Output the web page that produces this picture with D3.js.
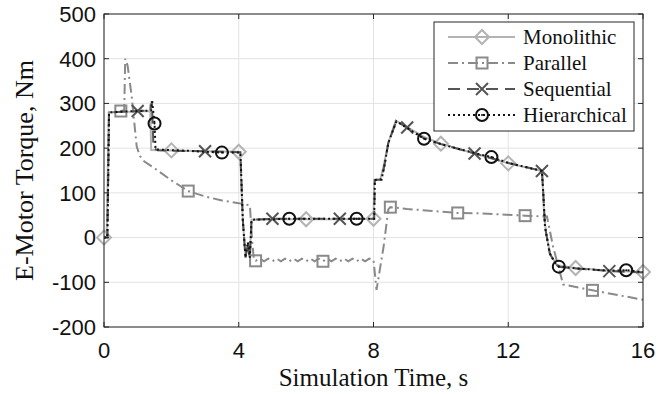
<!DOCTYPE html>
<html>
<head>
<meta charset="utf-8">
<script src="https://cdn.jsdelivr.net/npm/d3@7"></script>
<style>
  body { margin: 0; background: #fff; }
  svg { display: block; }
</style>
</head>
<body>
<div id="chart"></div>
<script>
// data, [time s, torque Nm]
const monolithic = [
  [0, 0], [0.08, 0], [0.14, 280], [1.0, 282], [1.36, 283], [1.37, 298], [1.40, 196],
  [2, 195], [3, 193], [4, 192], [4.04, 190], [4.12, 40], [4.2, -42], [4.27, -20], [4.32, -44],
  [4.38, 40], [5, 41], [6, 41], [7, 41], [8, 42], [8.02, 129], [8.2, 130], [8.3, 160],
  [8.44, 212], [8.66, 262], [9, 247], [9.5, 225], [10, 210], [11, 188], [12, 166], [13, 149],
  [13.06, 60], [13.12, 10], [13.25, -38], [13.45, -62], [14, -68], [15, -74], [16, -77]
];
const parallel = [
  [0, 0], [0.1, 0], [0.15, 280], [0.5, 283], [0.6, 285], [0.63, 400], [0.7, 385],
  [0.82, 317], [0.97, 204], [1.07, 182], [1.2, 170], [1.5, 155], [2.0, 128], [2.5, 104],
  [3.0, 92], [3.5, 83], [4.0, 77], [4.33, 72], [4.4, -10], [4.45, -50],
  [4.5, -52], [4.625, -47], [4.75, -53], [4.875, -47], [5.0, -53], [5.125, -47], [5.25, -53],
  [5.375, -47], [5.5, -53], [5.625, -47], [5.75, -53], [5.875, -47], [6.0, -53], [6.125, -47],
  [6.25, -53], [6.375, -47], [6.5, -53], [6.625, -47], [6.75, -53], [6.875, -47], [7.0, -53],
  [7.125, -47], [7.25, -53], [7.375, -47], [7.5, -53], [7.625, -47], [7.75, -53], [7.875, -47],
  [8.0, -50], [8.09, -117], [8.3, -20], [8.44, 63], [8.5, 68], [9, 64], [10, 58], [10.5, 55],
  [11.2, 54], [12.5, 49], [13.15, 47], [13.33, -20], [13.63, -105], [14.5, -118], [15, -125], [16, -139]
];
const sequential = [
  [0, 0], [0.1, 0], [0.15, 280], [1.0, 283], [1.38, 284], [1.42, 305], [1.47, 200], [1.6, 195],
  [3, 193], [4.05, 191], [4.12, 40], [4.2, -45], [4.27, -10], [4.33, -45], [4.38, 40], [5, 42],
  [7, 42], [8.02, 42], [8.04, 129], [8.24, 130], [8.34, 167], [8.44, 212], [8.68, 260], [9, 246],
  [9.5, 222], [10, 209], [11, 188], [12, 167], [13, 149], [13.04, 100], [13.09, 25], [13.23, -35],
  [13.4, -60], [13.55, -66], [14, -69], [15, -75], [16, -78]
];
const hierarchical = [
  [0, 0], [0.1, 0], [0.15, 280], [1.0, 283], [1.4, 284], [1.43, 305], [1.5, 255], [1.53, 197],
  [2.5, 194], [3.5, 190], [4.05, 190], [4.12, 40], [4.2, -45], [4.27, -10], [4.33, -45], [4.38, 40],
  [5.5, 42], [7.5, 42], [8.02, 42], [8.04, 129], [8.24, 130], [8.34, 167], [8.44, 212], [8.68, 260],
  [9, 245], [9.5, 221], [10, 209], [11, 189], [11.5, 180], [12, 167], [13, 149], [13.04, 100],
  [13.09, 25], [13.23, -35], [13.4, -58], [13.5, -65], [14, -69], [15, -74], [15.5, -73], [16, -77]
];

// times where each series carries a marker
const monoMarks = [0, 2, 4, 6, 8, 10, 12, 14, 16];
const paraMarks = [0.5, 2.5, 4.5, 6.5, 8.5, 10.5, 12.5, 14.5];
const seqMarks = [1, 3, 5, 7, 9, 11, 13, 15];
const hierMarks = [1.5, 3.5, 5.5, 7.5, 9.5, 11.5, 13.5, 15.5];

const xTicks = [0, 4, 8, 12, 16];
const yTicks = [-200, -100, 0, 100, 200, 300, 400, 500];

const series = [
  { name: "Monolithic", data: monolithic, marks: monoMarks, color: "#b3b3b3", dash: null, marker: "diamond" },
  { name: "Parallel", data: parallel, marks: paraMarks, color: "#8a8a8a", dash: "10,4,2,4", marker: "square" },
  { name: "Sequential", data: sequential, marks: seqMarks, color: "#555555", dash: "12,7", marker: "cross" },
  { name: "Hierarchical", data: hierarchical, marks: hierMarks, color: "#111111", dash: "2,3", marker: "circle" }
];

const W = 667, H = 394;
const margin = { left: 104, right: 24, top: 14, bottom: 67 };

const svg = d3.select("#chart").append("svg")
  .attr("width", W)
  .attr("height", H);

const x = d3.scaleLinear().domain([0, 16]).range([margin.left, W - margin.right]);
const y = d3.scaleLinear().domain([-200, 500]).range([H - margin.bottom, margin.top]);

// grid
const grid = svg.append("g").attr("stroke", "#e3e3e3").attr("stroke-width", 1);
xTicks.forEach(t => {
  grid.append("line").attr("x1", x(t)).attr("x2", x(t)).attr("y1", y(-200)).attr("y2", y(500));
});
yTicks.forEach(t => {
  grid.append("line").attr("x1", x(0)).attr("x2", x(16)).attr("y1", y(t)).attr("y2", y(t));
});

svg.append("defs").append("clipPath").attr("id", "plotclip")
  .append("rect")
  .attr("x", x(0) - 8).attr("y", y(500))
  .attr("width", x(16) - x(0) + 16).attr("height", y(-200) - y(500));

const line = d3.line().x(d => x(d[0])).y(d => y(d[1]));

function drawMarker(g, type, cx, cy, color) {
  if (type === "diamond") {
    g.append("path").attr("d", `M${cx},${cy - 7}L${cx + 7},${cy}L${cx},${cy + 7}L${cx - 7},${cy}Z`)
      .attr("fill", "none").attr("stroke", color).attr("stroke-width", 2);
  } else if (type === "square") {
    g.append("rect").attr("x", cx - 5.5).attr("y", cy - 5.5).attr("width", 11).attr("height", 11)
      .attr("fill", "none").attr("stroke", color).attr("stroke-width", 2);
  } else if (type === "cross") {
    g.append("path").attr("d", `M${cx - 6},${cy - 6}L${cx + 6},${cy + 6}M${cx - 6},${cy + 6}L${cx + 6},${cy - 6}`)
      .attr("fill", "none").attr("stroke", color).attr("stroke-width", 2);
  } else {
    g.append("circle").attr("cx", cx).attr("cy", cy).attr("r", 6)
      .attr("fill", "none").attr("stroke", color).attr("stroke-width", 2);
    g.append("circle").attr("cx", cx).attr("cy", cy).attr("r", 1).attr("fill", color);
  }
}

const plot = svg.append("g").attr("clip-path", "url(#plotclip)");
series.forEach(s => {
  plot.append("path")
    .datum(s.data)
    .attr("d", line)
    .attr("fill", "none")
    .attr("stroke", s.color)
    .attr("stroke-width", 2)
    .attr("stroke-dasharray", s.dash);
  const mg = plot.append("g");
  s.marks.forEach(t => {
    const p = s.data.find(d => d[0] === t);
    if (p) drawMarker(mg, s.marker, x(p[0]), y(p[1]), s.color);
  });
});

// axes box with inward ticks
const axisColor = "#262626";
const box = svg.append("g").attr("stroke", axisColor).attr("stroke-width", 1).attr("fill", "none");
box.append("rect").attr("x", x(0)).attr("y", y(500)).attr("width", x(16) - x(0)).attr("height", y(-200) - y(500));
xTicks.forEach(t => {
  box.append("line").attr("x1", x(t)).attr("x2", x(t)).attr("y1", y(-200)).attr("y2", y(-200) - 5);
  box.append("line").attr("x1", x(t)).attr("x2", x(t)).attr("y1", y(500)).attr("y2", y(500) + 5);
});
yTicks.forEach(t => {
  box.append("line").attr("x1", x(0)).attr("x2", x(0) + 5).attr("y1", y(t)).attr("y2", y(t));
  box.append("line").attr("x1", x(16)).attr("x2", x(16) - 5).attr("y1", y(t)).attr("y2", y(t));
});

// tick labels
const tickFont = "'Liberation Sans', Arial, sans-serif";
svg.append("g").selectAll("text").data(xTicks).join("text")
  .attr("x", d => x(d)).attr("y", y(-200) + 31)
  .attr("text-anchor", "middle")
  .attr("font-family", tickFont).attr("font-size", 22).attr("fill", "#111")
  .text(d => d);
svg.append("g").selectAll("text").data(yTicks).join("text")
  .attr("x", x(0) - 8).attr("y", d => y(d)).attr("dy", "0.36em")
  .attr("text-anchor", "end")
  .attr("font-family", tickFont).attr("font-size", 22).attr("fill", "#111")
  .text(d => d);

// axis titles
const serif = "'Liberation Serif', 'Times New Roman', serif";
svg.append("text")
  .attr("x", (x(0) + x(16)) / 2).attr("y", H - 8)
  .attr("text-anchor", "middle")
  .attr("font-family", serif).attr("font-size", 25).attr("fill", "#111")
  .text("Simulation Time, s");
svg.append("text")
  .attr("transform", `translate(33,${(y(500) + y(-200)) / 2}) rotate(-90)`)
  .attr("text-anchor", "middle")
  .attr("font-family", serif).attr("font-size", 26).attr("fill", "#111")
  .text("E-Motor Torque, Nm");

// legend
const lg = svg.append("g").attr("transform", "translate(434,22)");
lg.append("rect").attr("width", 200).attr("height", 109)
  .attr("fill", "#fff").attr("stroke", axisColor).attr("stroke-width", 1);
series.forEach((s, i) => {
  const cy = 15 + i * 26;
  lg.append("line").attr("x1", 14).attr("x2", 81).attr("y1", cy).attr("y2", cy)
    .attr("stroke", s.color).attr("stroke-width", 2).attr("stroke-dasharray", s.dash);
  drawMarker(lg, s.marker, 48, cy, s.color);
  lg.append("text").attr("x", 89).attr("y", cy).attr("dy", "0.33em")
    .attr("font-family", serif).attr("font-size", 21).attr("fill", "#111")
    .text(s.name);
});
</script>
</body>
</html>
